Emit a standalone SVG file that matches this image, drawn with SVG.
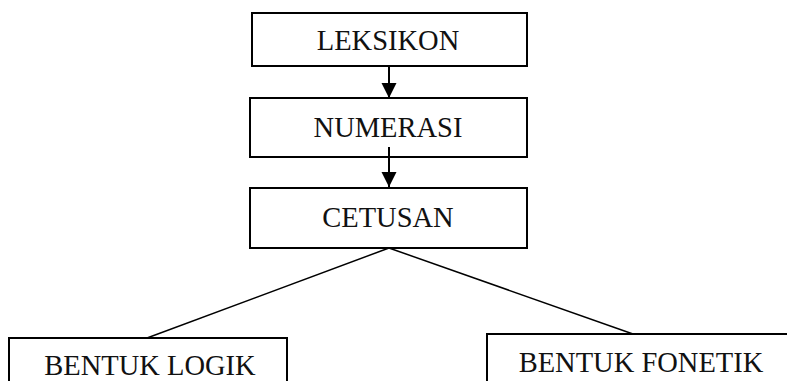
<svg xmlns="http://www.w3.org/2000/svg" width="787" height="381" viewBox="0 0 787 381">
<defs>
<style>
.box{fill:#fff;stroke:#000;stroke-width:2}
.t{font-family:"Liberation Serif","Times New Roman",serif;font-size:28.5px;fill:#111;text-anchor:middle}
.c{stroke:#000;stroke-width:2;fill:none}
.l{stroke:#000;stroke-width:1.5;fill:none}
</style>
<marker id="ah" markerWidth="16" markerHeight="16" refX="15" refY="7.5" orient="auto" markerUnits="userSpaceOnUse">
<path d="M0,0 L15,7.5 L0,15 Z" fill="#000"/>
</marker>
</defs>
<g id="connectors">
<line class="c" x1="389" y1="66" x2="389" y2="98" marker-end="url(#ah)"/>
<line class="c" x1="389" y1="147" x2="389" y2="187" marker-end="url(#ah)"/>
<line class="l" x1="389" y1="248" x2="147" y2="338"/>
<line class="l" x1="389" y1="248" x2="633" y2="334"/>
</g>
<g id="leksikon">
<rect class="box" x="252" y="13" width="275" height="53"/>
<text class="t" x="388" y="50">LEKSIKON</text>
</g>
<g id="numerasi">
<rect class="box" x="250" y="98" width="277" height="59" style="fill:none"/>
<text class="t" x="388" y="137">NUMERASI</text>
</g>
<g id="cetusan">
<rect class="box" x="250" y="188" width="277" height="60"/>
<text class="t" x="388" y="227">CETUSAN</text>
</g>
<g id="bentuk-logik">
<rect class="box" x="9" y="338" width="278" height="60"/>
<text class="t" x="150" y="375">BENTUK LOGIK</text>
</g>
<g id="bentuk-fonetik">
<rect class="box" x="487" y="334" width="320" height="60"/>
<text class="t" x="641" y="372">BENTUK FONETIK</text>
</g>
</svg>
